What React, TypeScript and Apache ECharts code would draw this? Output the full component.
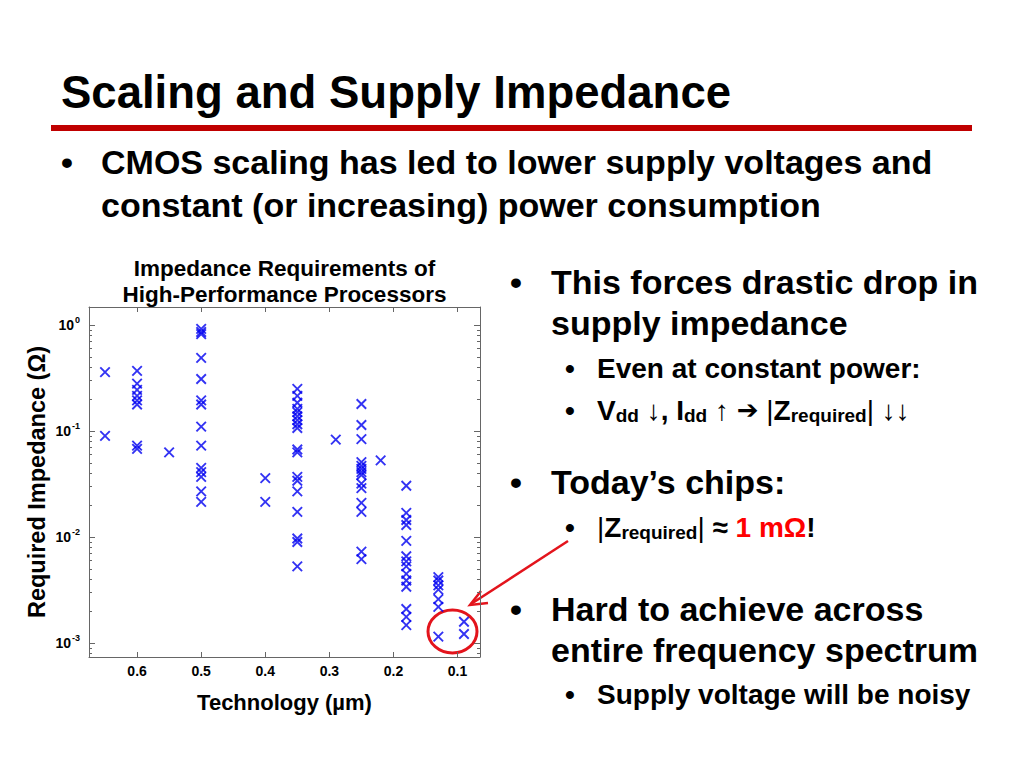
import React, { useEffect, useRef } from 'react';
import * as echarts from 'echarts';

const FONT = '"Liberation Sans", Arial, Helvetica, sans-serif';

// Technology nodes (µm) and the required impedance (Ω) of each processor at that node
const techNodes = [0.65, 0.6, 0.55, 0.5, 0.4, 0.35, 0.29, 0.25, 0.22, 0.18, 0.13, 0.09];
const z065 = [0.36, 0.09];
const z060 = [0.37, 0.28, 0.245, 0.215, 0.195, 0.178, 0.073, 0.068];
const z055 = [0.063];
const z050 = [0.92, 0.86, 0.82, 0.49, 0.31, 0.195, 0.178, 0.11, 0.073, 0.045, 0.041, 0.037, 0.027, 0.0215];
const z040 = [0.036, 0.0215];
const z035 = [0.25, 0.215, 0.185, 0.162, 0.151, 0.138, 0.127, 0.116, 0.107, 0.067, 0.063, 0.037, 0.034, 0.027, 0.0173, 0.0097, 0.009, 0.0053];
const z029 = [0.083];
const z025 = [0.18, 0.114, 0.084, 0.051, 0.047, 0.044, 0.041, 0.0385, 0.032, 0.029, 0.021, 0.0173, 0.0073, 0.0062];
const z022 = [0.053];
const z018 = [0.0305, 0.0169, 0.0145, 0.013, 0.0092, 0.0066, 0.0059, 0.0053, 0.0045, 0.0039, 0.0034, 0.0021, 0.00177, 0.00148];
const z013 = [0.0042, 0.0039, 0.0035, 0.0032, 0.0026, 0.0022, 0.00115];
const z009 = [0.00159, 0.00122];
const impedanceByNode = [z065, z060, z055, z050, z040, z035, z029, z025, z022, z018, z013, z009];

const xTickValues = [0.1, 0.2, 0.3, 0.4, 0.5, 0.6];
const yMajorTicks = [0.001, 0.01, 0.1, 1];
const yMinorTicks = [
  0.0008, 0.0009,
  0.002, 0.003, 0.004, 0.005, 0.006, 0.007, 0.008, 0.009,
  0.02, 0.03, 0.04, 0.05, 0.06, 0.07, 0.08, 0.09,
  0.2, 0.3, 0.4, 0.5, 0.6, 0.7, 0.8, 0.9,
];

const X_MIN = 0.065;
const X_MAX = 0.675;
const Y_MIN = 0.00074;
const Y_MAX = 1.48;

const AXIS_COLOR = '#666';
const MARK_COLOR = '#0000f0';
const RED = '#e3141c';

function txt(text: string, x: number, y: number, size: number, extra: any = {}) {
  return {
    type: 'text',
    x,
    y,
    silent: true,
    style: {
      text,
      font: `bold ${size}px ${FONT}`,
      fill: '#000',
      textAlign: extra.align || 'left',
      textVerticalAlign: 'middle',
      align: extra.align || 'left',
      verticalAlign: 'middle',
      ...(extra.style || {}),
    },
  };
}

function richTxt(text: string, x: number, y: number, size: number, subSize: number, subShift: number, extraRich: any = {}) {
  return {
    type: 'text',
    x,
    y,
    silent: true,
    style: {
      text,
      font: `bold ${size}px ${FONT}`,
      fill: '#000',
      textAlign: 'left',
      textVerticalAlign: 'middle',
      align: 'left',
      verticalAlign: 'middle',
      rich: {
        b: { font: `bold ${size}px ${FONT}`, fontSize: size, fontWeight: 'bold', fontFamily: FONT, fill: '#000' },
        n: { font: `${size}px ${FONT}`, fontSize: size, fontWeight: 'normal', fontFamily: FONT, fill: '#000' },
        a: { font: `bold ${size - 2}px "DejaVu Sans", ${FONT}`, fontSize: size - 2, fontWeight: 'bold', fontFamily: `"DejaVu Sans", ${FONT}`, fill: '#000' },
        s: {
          font: `bold ${subSize}px ${FONT}`,
          fontSize: subSize,
          fontWeight: 'bold',
          fontFamily: FONT,
          fill: '#000',
          padding: [subShift * 2, 0, 0, 0],
        },
        ...extraRich,
      },
    },
  };
}

function logAxis(position: 'left' | 'right', ticks: number[], length: number, showLine: boolean, labels: boolean, name?: string) {
  const ax: any = {
    type: 'log',
    logBase: 10,
    position,
    min: Y_MIN,
    max: Y_MAX,
    axisLine: { show: showLine, lineStyle: { color: AXIS_COLOR, width: 1 } },
    axisTick: { show: true, inside: true, length, customValues: ticks, lineStyle: { color: AXIS_COLOR, width: 1 } },
    splitLine: { show: false },
    minorTick: { show: false },
    axisLabel: labels
      ? {
          show: true,
          customValues: yMajorTicks,
          margin: 9,
          formatter: (v: number) => `{b|10}{s|${Math.round(Math.log10(v))}}`,
          rich: {
            b: { fontSize: 14, fontWeight: 'bold', fontFamily: FONT, color: '#000' },
            s: { fontSize: 9, fontWeight: 'bold', fontFamily: FONT, color: '#000', padding: [0, 0, 11, 1] },
          },
        }
      : { show: false },
  };
  if (name) {
    ax.name = name;
    ax.nameLocation = 'middle';
    ax.nameGap = 40;
    ax.nameRotate = 90;
    ax.nameTextStyle = { fontFamily: FONT, fontWeight: 'bold', fontSize: 23.5, color: '#000' };
  }
  return ax;
}

function linAxis(position: 'top' | 'bottom', labels: boolean, name?: string) {
  const ax: any = {
    type: 'value',
    position,
    inverse: true,
    min: X_MIN,
    max: X_MAX,
    axisLine: { show: true, lineStyle: { color: AXIS_COLOR, width: 1 } },
    axisTick: { show: true, inside: true, length: 5, customValues: xTickValues, lineStyle: { color: AXIS_COLOR, width: 1 } },
    splitLine: { show: false },
    axisLabel: labels
      ? {
          show: true,
          customValues: xTickValues,
          formatter: (v: number) => v.toFixed(1),
          fontSize: 14,
          fontWeight: 'bold',
          fontFamily: FONT,
          color: '#000',
          margin: 7,
        }
      : { show: false },
  };
  if (name) {
    ax.name = name;
    ax.nameLocation = 'middle';
    ax.nameGap = 34;
    ax.nameTextStyle = { fontFamily: FONT, fontWeight: 'bold', fontSize: 22, color: '#000' };
  }
  return ax;
}

export default function App() {
  const ref = useRef<HTMLDivElement>(null);

  useEffect(() => {
    if (!ref.current) return;
    const chart = echarts.init(ref.current, undefined, { renderer: 'svg' });

    const data: number[][] = [];
    techNodes.forEach((t, i) => {
      impedanceByNode[i].forEach((z) => data.push([t, z]));
    });

    const option: any = {
      animation: false,
      backgroundColor: '#ffffff',
      textStyle: { fontFamily: FONT },
      grid: { left: 89, top: 307, width: 391, height: 350, containLabel: false },
      xAxis: [linAxis('bottom', true, 'Technology (µm)'), linAxis('top', false)],
      yAxis: [
        logAxis('left', yMajorTicks, 6, true, true, 'Required Impedance (Ω)'),
        logAxis('left', yMinorTicks, 3, false, false),
        logAxis('right', yMajorTicks, 6, true, false),
        logAxis('right', yMinorTicks, 3, false, false),
      ],
      series: [
        {
          type: 'scatter',
          name: 'Processors',
          xAxisIndex: 0,
          yAxisIndex: 0,
          symbol: 'path://M0 0L10 10M10 0L0 10',
          symbolSize: 9.5,
          itemStyle: { color: 'rgba(0,0,0,0)', borderColor: MARK_COLOR, borderWidth: 1.9 },
          emphasis: { disabled: true },
          data,
        },
      ],
      graphic: [
        // slide title and rule
        txt('Scaling and Supply Impedance', 61, 92, 45.5),
        { type: 'rect', silent: true, shape: { x: 51, y: 125, width: 921, height: 6 }, style: { fill: '#c00000' } },
        // top bullet
        txt('•', 61, 162, 34),
        txt('CMOS scaling has led to lower supply voltages and', 101, 162, 34),
        txt('constant (or increasing) power consumption', 101, 205, 34),
        // chart title
        txt('Impedance Requirements of', 284.5, 268, 22.5, { align: 'center' }),
        txt('High-Performance Processors', 284.5, 294, 22.5, { align: 'center' }),
        // right column
        txt('•', 510, 282, 34),
        txt('This forces drastic drop in', 551, 282, 34),
        txt('supply impedance', 551, 323, 34),
        txt('•', 565, 368, 28),
        txt('Even at constant power:', 597, 368, 28),
        txt('•', 565, 410, 28),
        richTxt('{b|V}{s|dd}{b| ↓, I}{s|dd}{b| ↑ }{a|➔}{b| }{n||}{b|Z}{s|required}{n||}{b| ↓↓}', 597, 410, 28, 19, 5),
        txt('•', 510, 482, 34),
        txt('Today’s chips:', 551, 482, 34),
        txt('•', 565, 527, 28),
        richTxt('{n||}{b|Z}{s|required}{n||}{b| ≈ }{r|1 mΩ}{b|!}', 597, 527, 28, 19, 5, {
          r: { font: `bold 28px ${FONT}`, fontSize: 28, fontWeight: 'bold', fontFamily: FONT, fill: '#ff0000' },
        }),
        txt('•', 510, 609, 34),
        txt('Hard to achieve across', 551, 609, 34),
        txt('entire frequency spectrum', 551, 650, 34),
        txt('•', 565, 694, 28),
        txt('Supply voltage will be noisy', 597, 694, 28),
        // annotation: arrow and circle
        {
          type: 'line',
          silent: true,
          shape: { x1: 568, y1: 541, x2: 471, y2: 604 },
          style: { stroke: RED, lineWidth: 2.5 },
        },
        {
          type: 'polyline',
          silent: true,
          shape: { points: [[481, 591], [470, 605], [488, 603]] },
          style: { stroke: RED, lineWidth: 2.5, fill: 'none' },
        },
        {
          type: 'ellipse',
          silent: true,
          shape: { cx: 452.5, cy: 631.5, rx: 24.5, ry: 21.5 },
          style: { stroke: RED, lineWidth: 3, fill: 'none' },
        },
      ],
    };

    chart.setOption(option);
    return () => chart.dispose();
  }, []);

  return (
    <div
      ref={ref}
      style={{ position: 'fixed', left: 0, top: 0, width: 1024, height: 768, background: '#fff' }}
    />
  );
}
